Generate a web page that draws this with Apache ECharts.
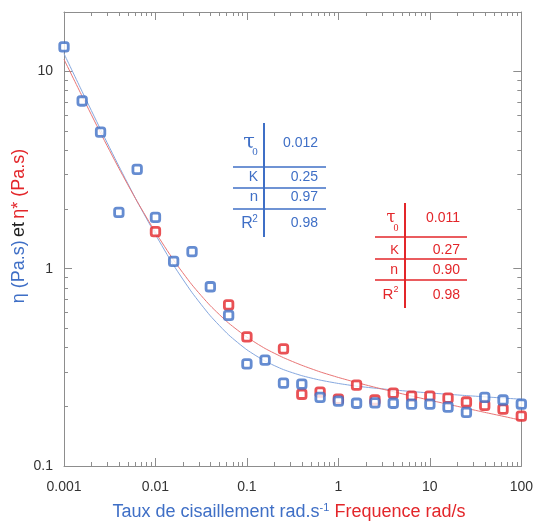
<!DOCTYPE html>
<html>
<head>
<meta charset="utf-8">
<script src="https://cdn.jsdelivr.net/npm/echarts@6/dist/echarts.min.js"></script>
<style>
  html, body { margin: 0; padding: 0; background: #fff; }
  #chart { width: 536px; height: 525px; }
</style>
</head>
<body>
<div id="chart"></div>
<script>
// shear rate sweep (blue) and frequency sweep (red)
const shearRate = [0.001, 0.00158, 0.00251, 0.00398, 0.00631, 0.01, 0.0158, 0.0251, 0.0398, 0.0631,
  0.1, 0.158, 0.251, 0.398, 0.631, 1, 1.58, 2.51, 3.98, 6.31, 10, 15.8, 25.1, 39.8, 63.1, 100];
const etaShear = [13.3, 7.08, 4.92, 1.93, 3.19, 1.82, 1.09, 1.22, 0.81, 0.58,
  0.329, 0.344, 0.263, 0.26, 0.223, 0.213, 0.208, 0.209, 0.208, 0.206, 0.206, 0.199, 0.187, 0.223, 0.216, 0.206];

const frequency = [0.01, 0.0631, 0.1, 0.251, 0.398, 0.631, 1, 1.58, 2.51, 3.98, 6.31, 10, 15.8, 25.1, 39.8, 63.1, 100];
const etaComplex = [1.54, 0.656, 0.451, 0.392, 0.231, 0.237, 0.218, 0.257, 0.216, 0.234, 0.226, 0.226, 0.221, 0.211, 0.203, 0.194, 0.179];

// fitted curves
const fitX = [0.001, 0.00158, 0.00251, 0.00398, 0.00631, 0.01, 0.0158, 0.0251, 0.0398, 0.0631,
  0.1, 0.158, 0.251, 0.398, 0.631, 1, 1.58, 2.51, 3.98, 6.31, 10, 15.8, 25.1, 39.8, 63.1, 100];
const fitShear = [12.3, 7.9, 5.08, 3.31, 2.19, 1.49, 1.04, 0.757, 0.577, 0.462,
  0.388, 0.34, 0.308, 0.287, 0.2725, 0.262, 0.254, 0.248, 0.243, 0.2385, 0.2345, 0.231, 0.2274, 0.2242, 0.221, 0.218];
const fitComplex = [11.5, 7.48, 4.87, 3.23, 2.19, 1.53, 1.105, 0.828, 0.649, 0.53,
  0.45, 0.394, 0.354, 0.324, 0.3, 0.281, 0.265, 0.2506, 0.238, 0.2263, 0.2155, 0.2056, 0.196, 0.187, 0.1787, 0.1705];

// fit parameter tables
const paramNames = ['K', 'n'];
const paramsShear = ['0.012', '0.25', '0.97', '0.98'];
const paramsComplex = ['0.011', '0.27', '0.90', '0.98'];

const minorSteps = [2, 3, 4, 5, 6, 7, 8, 9];
const xDecades = [-3, -2, -1, 0, 1];
const yDecades = [-1, 0];

const blue = '#3f6fc6';
const red = '#e3262a';
const gray = '#8d8d8d';
const font = '"Liberation Sans", Arial, sans-serif';

const xMinor = [];
xDecades.forEach(d => minorSteps.forEach(k => xMinor.push(d + Math.log10(k))));
const yMinor = [];
yDecades.forEach(d => minorSteps.forEach(k => yMinor.push(d + Math.log10(k))));

const isDecade = v => Math.abs(Math.log10(v) - Math.round(Math.log10(v))) < 1e-6;

function logAxis(position, min, max, showLabel, margin) {
  return {
    type: 'log', logBase: 10, position, min, max,
    axisLine: { show: true, onZero: false, lineStyle: { color: gray, width: 1 } },
    axisTick: { show: true, inside: true, length: 8, lineStyle: { color: gray, width: 1 } },
    axisLabel: {
      show: showLabel, color: '#333', fontSize: 14, fontFamily: font, margin,
      formatter: v => (isDecade(v) ? String(v) : '')
    },
    splitLine: { show: false },
    minorTick: { show: false },
    minorSplitLine: { show: false }
  };
}

function minorAxis(position, min, max, ticks) {
  return {
    type: 'value', position, min, max,
    axisLine: { show: false, onZero: false },
    axisLabel: { show: false },
    splitLine: { show: false },
    axisTick: { show: true, inside: true, length: 4, customValues: ticks, lineStyle: { color: gray, width: 1 } }
  };
}

const chart = echarts.init(document.getElementById('chart'));

const markerStyle = color => ({ color: '#fff', borderColor: color, borderWidth: 2.8 });

function txt(x, y, text, color, size, align, family) {
  return {
    type: 'text', x, y,
    style: { text, fill: color, fontSize: size, fontFamily: family || font, align: align || 'right', verticalAlign: 'middle' }
  };
}
function seg(x1, y1, x2, y2, color, w) {
  return { type: 'line', shape: { x1, y1, x2, y2 }, style: { stroke: color, lineWidth: w } };
}

chart.setOption({
  animation: false,
  backgroundColor: '#fff',
  grid: { left: 64, right: 12, top: 12, bottom: 59 },
  xAxis: [
    logAxis('bottom', 0.001, 100, true, 14),
    minorAxis('bottom', -3, 2, xMinor),
    logAxis('top', 0.001, 100, false, 8),
    minorAxis('top', -3, 2, xMinor)
  ],
  yAxis: [
    logAxis('left', 0.1, 20, true, 11),
    minorAxis('left', -1, Math.log10(20), yMinor),
    logAxis('right', 0.1, 20, false, 8),
    minorAxis('right', -1, Math.log10(20), yMinor)
  ],
  series: [
    {
      type: 'line', name: 'fit eta', smooth: 0.2, showSymbol: false, symbol: 'none',
      data: fitX.map((x, i) => [x, fitShear[i]]),
      lineStyle: { color: '#86a8df', width: 1 }, z: 2
    },
    {
      type: 'line', name: 'fit eta*', smooth: 0.2, showSymbol: false, symbol: 'none',
      data: fitX.map((x, i) => [x, fitComplex[i]]),
      lineStyle: { color: '#e97575', width: 1 }, z: 2
    },
    {
      type: 'scatter', name: 'eta*', symbol: 'roundRect', symbolSize: 8.5,
      data: frequency.map((x, i) => [x, etaComplex[i]]),
      itemStyle: markerStyle(red), z: 3
    },
    {
      type: 'scatter', name: 'eta', symbol: 'roundRect', symbolSize: 8.5,
      data: shearRate.map((x, i) => [x, etaShear[i]]),
      itemStyle: markerStyle(blue), z: 4
    }
  ],
  graphic: [
    // y axis title
    {
      type: 'text', x: 19, y: 226, rotation: Math.PI / 2,
      style: {
        text: '{b|η (Pa.s)} {k|et} {r|η* (Pa.s)}',
        align: 'center', verticalAlign: 'middle',
        rich: {
          b: { fill: blue, fontSize: 18, fontFamily: font },
          k: { fill: '#222', fontSize: 18, fontFamily: font },
          r: { fill: red, fontSize: 18, fontFamily: font }
        }
      }
    },
    // x axis title
    {
      type: 'text', x: 289, y: 512,
      style: {
        text: '{b|Taux de cisaillement rad.s}{s|-1}{r| Frequence rad/s}',
        align: 'center', verticalAlign: 'middle',
        rich: {
          b: { fill: blue, fontSize: 18, fontFamily: font, lineHeight: 20 },
          s: { fill: blue, fontSize: 11, fontFamily: font, verticalAlign: 'top', lineHeight: 11 },
          r: { fill: red, fontSize: 18, fontFamily: font, lineHeight: 20 }
        }
      }
    },
    // blue table
    seg(264, 123, 264, 237, blue, 2),
    seg(233, 167, 326, 167, blue, 1.5),
    seg(233, 188, 326, 188, blue, 1.5),
    seg(233, 209, 326, 209, blue, 1.5),
    txt(249, 143, 'τ', blue, 21, 'center', '"DejaVu Serif", serif'),
    txt(255, 152, '0', blue, 11, 'center', '"Liberation Serif", serif'),
    txt(258, 177, paramNames[0], blue, 14),
    txt(258, 197, paramNames[1], blue, 15),
    txt(247, 224, 'R', blue, 16, 'center'),
    txt(255, 219, '2', blue, 10, 'center'),
    txt(318, 143, paramsShear[0], blue, 14),
    txt(318, 177, paramsShear[1], blue, 14),
    txt(318, 197, paramsShear[2], blue, 14),
    txt(318, 223, paramsShear[3], blue, 14),
    // red table
    seg(405, 203, 405, 308, red, 2),
    seg(375, 237, 467, 237, red, 1.5),
    seg(375, 259, 467, 259, red, 1.5),
    seg(375, 280, 467, 280, red, 1.5),
    txt(391, 218, 'τ', red, 16, 'center', '"DejaVu Serif", serif'),
    txt(396, 228, '0', red, 10, 'center', '"Liberation Serif", serif'),
    txt(399, 250, paramNames[0], red, 13),
    txt(398, 270, paramNames[1], red, 14),
    txt(388, 295, 'R', red, 15, 'center'),
    txt(396, 290, '2', red, 9, 'center'),
    txt(460, 218, paramsComplex[0], red, 14),
    txt(460, 250, paramsComplex[1], red, 14),
    txt(460, 270, paramsComplex[2], red, 14),
    txt(460, 295, paramsComplex[3], red, 14)
  ]
});
</script>
</body>
</html>
